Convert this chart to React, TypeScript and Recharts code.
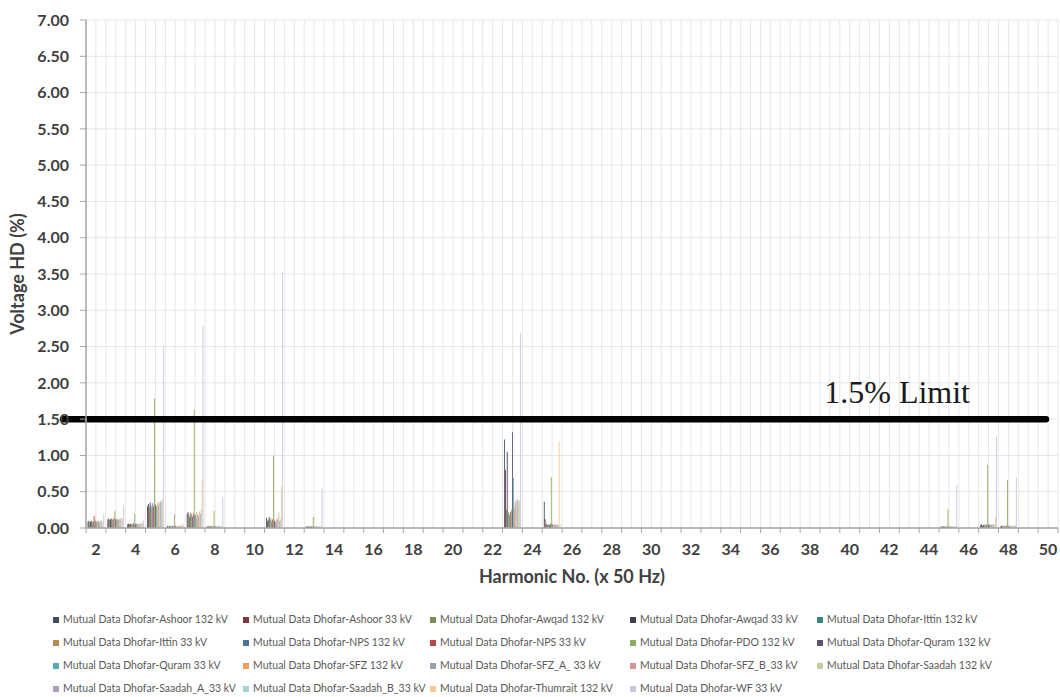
import { BarChart, Bar, XAxis, YAxis, CartesianGrid, ReferenceLine, Legend } from "recharts"

// harmonic order, x 50 Hz
const harmonics = [
  2, 3, 4, 5, 6, 7, 8, 9, 10, 11, 12, 13, 14, 15, 16, 17, 18, 19, 20, 21, 22, 23, 24, 25, 26,
  27, 28, 29, 30, 31, 32, 33, 34, 35, 36, 37, 38, 39, 40, 41, 42, 43, 44, 45, 46, 47, 48, 49, 50,
]
const yTicks = [0, 0.5, 1, 1.5, 2, 2.5, 3, 3.5, 4, 4.5, 5, 5.5, 6, 6.5, 7]
const limit = 1.5

const seriesNames = [
  "Mutual Data Dhofar-Ashoor 132 kV",
  "Mutual Data Dhofar-Ashoor 33 kV",
  "Mutual Data Dhofar-Awqad 132 kV",
  "Mutual Data Dhofar-Awqad 33 kV",
  "Mutual Data Dhofar-Ittin 132 kV",
  "Mutual Data Dhofar-Ittin 33 kV",
  "Mutual Data Dhofar-NPS 132 kV",
  "Mutual Data Dhofar-NPS 33 kV",
  "Mutual Data Dhofar-PDO 132 kV",
  "Mutual Data Dhofar-Quram 132 kV",
  "Mutual Data Dhofar-Quram 33 kV",
  "Mutual Data Dhofar-SFZ 132 kV",
  "Mutual Data Dhofar-SFZ_A_ 33 kV",
  "Mutual Data Dhofar-SFZ_B_33 kV",
  "Mutual Data Dhofar-Saadah 132 kV",
  "Mutual Data Dhofar-Saadah_A_33 kV",
  "Mutual Data Dhofar-Saadah_B_33 kV",
  "Mutual Data Dhofar-Thumrait 132 kV",
  "Mutual Data Dhofar-WF 33 kV",
]

const seriesColors = [
  "#3f4f63", "#7f3540", "#7d8c55", "#433f4c", "#3f8580", "#b58a55", "#4f7397", "#bd4449",
  "#8fae5c", "#5f5270", "#57aab0", "#e8a060", "#98a2ad", "#d49494", "#c3cda2", "#aca2b6",
  "#a6d2d6", "#f5c894", "#c4c8dc",
]

// values in % (index = harmonic - 2)
const ashoor132 = [
  0.09, 0.12, 0.05, 0.3, 0.03, 0.2, 0.02, 0, 0, 0.14,
  0, 0.02, 0, 0, 0, 0, 0, 0, 0, 0,
  0, 1.22, 0, 0.36, 0, 0, 0, 0, 0, 0,
  0, 0, 0, 0, 0, 0, 0, 0, 0, 0,
  0, 0, 0, 0.02, 0, 0.04, 0.02, 0, 0,
]
const ashoor33 = [
  0.1, 0.13, 0.06, 0.33, 0.02, 0.22, 0.02, 0, 0, 0.1,
  0, 0.02, 0, 0, 0, 0, 0, 0, 0, 0,
  0, 0.8, 0, 0.12, 0, 0, 0, 0, 0, 0,
  0, 0, 0, 0, 0, 0, 0, 0, 0, 0,
  0, 0, 0, 0.02, 0, 0.05, 0.03, 0, 0,
]
const awqad132 = [
  0.08, 0.11, 0.05, 0.28, 0.03, 0.18, 0.03, 0, 0, 0.12,
  0, 0.02, 0, 0, 0, 0, 0, 0, 0, 0,
  0, 0.25, 0, 0.06, 0, 0, 0, 0, 0, 0,
  0, 0, 0, 0, 0, 0, 0, 0, 0, 0,
  0, 0, 0, 0.02, 0, 0.03, 0.02, 0, 0,
]
const awqad33 = [
  0.09, 0.12, 0.06, 0.35, 0.02, 0.15, 0.02, 0, 0, 0.15,
  0, 0.02, 0, 0, 0, 0, 0, 0, 0, 0,
  0, 1.05, 0, 0.05, 0, 0, 0, 0, 0, 0,
  0, 0, 0, 0, 0, 0, 0, 0, 0, 0,
  0, 0, 0, 0.02, 0, 0.04, 0.03, 0, 0,
]
const ittin132 = [
  0.1, 0.13, 0.05, 0.31, 0.03, 0.21, 0.02, 0, 0, 0.11,
  0, 0.02, 0, 0, 0, 0, 0, 0, 0, 0,
  0, 0.22, 0, 0.04, 0, 0, 0, 0, 0, 0,
  0, 0, 0, 0, 0, 0, 0, 0, 0, 0,
  0, 0, 0, 0.02, 0, 0.05, 0.02, 0, 0,
]
const ittin33 = [
  0.08, 0.12, 0.06, 0.27, 0.02, 0.19, 0.03, 0, 0, 0.13,
  0, 0.02, 0, 0, 0, 0, 0, 0, 0, 0,
  0, 0.2, 0, 0.05, 0, 0, 0, 0, 0, 0,
  0, 0, 0, 0, 0, 0, 0, 0, 0, 0,
  0, 0, 0, 0.02, 0, 0.03, 0.03, 0, 0,
]
const nps132 = [
  0.09, 0.11, 0.05, 0.34, 0.03, 0.16, 0.02, 0, 0, 0.09,
  0, 0.02, 0, 0, 0, 0, 0, 0, 0, 0,
  0, 0.18, 0, 0.04, 0, 0, 0, 0, 0, 0,
  0, 0, 0, 0, 0, 0, 0, 0, 0, 0,
  0, 0, 0, 0.02, 0, 0.04, 0.02, 0, 0,
]
const nps33 = [
  0.17, 0.14, 0.07, 0.3, 0.02, 0.2, 0.02, 0, 0, 0.12,
  0, 0.02, 0, 0, 0, 0, 0, 0, 0, 0,
  0, 0.22, 0, 0.06, 0, 0, 0, 0, 0, 0,
  0, 0, 0, 0, 0, 0, 0, 0, 0, 0,
  0, 0, 0, 0.02, 0, 0.05, 0.03, 0, 0,
]
const pdo132 = [
  0.12, 0.23, 0.2, 1.78, 0.19, 1.63, 0.23, 0, 0, 1.0,
  0, 0.15, 0, 0, 0, 0, 0, 0, 0, 0,
  0, 0.25, 0, 0.7, 0, 0, 0, 0, 0, 0,
  0, 0, 0, 0, 0, 0, 0, 0, 0, 0,
  0, 0, 0, 0.26, 0, 0.87, 0.66, 0, 0,
]
const quram132 = [
  0.09, 0.12, 0.05, 0.32, 0.03, 0.18, 0.02, 0, 0, 0.1,
  0, 0.02, 0, 0, 0, 0, 0, 0, 0, 0,
  0, 1.32, 0, 0.05, 0, 0, 0, 0, 0, 0,
  0, 0, 0, 0, 0, 0, 0, 0, 0, 0,
  0, 0, 0, 0.02, 0, 0.04, 0.02, 0, 0,
]
const quram33 = [
  0.08, 0.12, 0.06, 0.29, 0.02, 0.14, 0.03, 0, 0, 0.08,
  0, 0.02, 0, 0, 0, 0, 0, 0, 0, 0,
  0, 0.69, 0, 0.04, 0, 0, 0, 0, 0, 0,
  0, 0, 0, 0, 0, 0, 0, 0, 0, 0,
  0, 0, 0, 0.02, 0, 0.05, 0.03, 0, 0,
]
const sfz132 = [
  0.1, 0.13, 0.05, 0.34, 0.03, 0.22, 0.02, 0, 0, 0.12,
  0, 0.02, 0, 0, 0, 0, 0, 0, 0, 0,
  0, 0.28, 0, 0.05, 0, 0, 0, 0, 0, 0,
  0, 0, 0, 0, 0, 0, 0, 0, 0, 0,
  0, 0, 0, 0.02, 0, 0.04, 0.02, 0, 0,
]
const sfzA33 = [
  0.09, 0.11, 0.06, 0.31, 0.02, 0.19, 0.02, 0, 0, 0.11,
  0, 0.02, 0, 0, 0, 0, 0, 0, 0, 0,
  0, 0.35, 0, 0.04, 0, 0, 0, 0, 0, 0,
  0, 0, 0, 0, 0, 0, 0, 0, 0, 0,
  0, 0, 0, 0.02, 0, 0.05, 0.03, 0, 0,
]
const sfzB33 = [
  0.08, 0.12, 0.05, 0.36, 0.03, 0.17, 0.03, 0, 0, 0.14,
  0, 0.02, 0, 0, 0, 0, 0, 0, 0, 0,
  0, 0.38, 0, 0.05, 0, 0, 0, 0, 0, 0,
  0, 0, 0, 0, 0, 0, 0, 0, 0, 0,
  0, 0, 0, 0.02, 0, 0.04, 0.02, 0, 0,
]
const saadah132 = [
  0.11, 0.13, 0.06, 0.33, 0.02, 0.23, 0.02, 0, 0, 0.22,
  0, 0.02, 0, 0, 0, 0, 0, 0, 0, 0,
  0, 0.32, 0, 0.04, 0, 0, 0, 0, 0, 0,
  0, 0, 0, 0, 0, 0, 0, 0, 0, 0,
  0, 0, 0, 0.02, 0, 0.06, 0.03, 0, 0,
]
const saadahA33 = [
  0.09, 0.12, 0.07, 0.38, 0.03, 0.2, 0.02, 0, 0, 0.1,
  0, 0.02, 0, 0, 0, 0, 0, 0, 0, 0,
  0, 0.4, 0, 0.05, 0, 0, 0, 0, 0, 0,
  0, 0, 0, 0, 0, 0, 0, 0, 0, 0,
  0, 0, 0, 0.02, 0, 0.05, 0.02, 0, 0,
]
const saadahB33 = [
  0.1, 0.14, 0.06, 0.35, 0.03, 0.26, 0.03, 0, 0, 0.12,
  0, 0.02, 0, 0, 0, 0, 0, 0, 0, 0,
  0, 0.36, 0, 0.04, 0, 0, 0, 0, 0, 0,
  0, 0, 0, 0, 0, 0, 0, 0, 0, 0,
  0, 0, 0, 0.02, 0, 0.04, 0.03, 0, 0,
]
const thumrait132 = [
  0.09, 0.13, 0.08, 0.4, 0.04, 0.66, 0.02, 0, 0, 0.57,
  0, 0.03, 0, 0, 0, 0, 0, 0, 0, 0,
  0, 0.38, 0, 1.19, 0, 0, 0, 0, 0, 0,
  0, 0, 0, 0, 0, 0, 0, 0, 0, 0,
  0, 0, 0, 0.03, 0, 0.15, 0.04, 0, 0,
]
const wf33 = [
  0.2, 0.32, 0.1, 2.5, 0.06, 2.78, 0.43, 0, 0, 3.52,
  0, 0.54, 0, 0, 0, 0, 0, 0, 0, 0,
  0, 2.69, 0, 0.05, 0, 0, 0, 0, 0, 0,
  0, 0, 0, 0, 0, 0, 0, 0, 0, 0,
  0, 0, 0, 0.59, 0, 1.26, 0.7, 0, 0,
]

const seriesValues = [
  ashoor132, ashoor33, awqad132, awqad33, ittin132, ittin33, nps132, nps33, pdo132, quram132,
  quram33, sfz132, sfzA33, sfzB33, saadah132, saadahA33, saadahB33, thumrait132, wf33,
]

const data = harmonics.map((h, i) => {
  const row: Record<string, number> = { h }
  seriesValues.forEach((vals, k) => {
    row["s" + k] = vals[i]
  })
  return row
})

const axisGray = "#a6a6a6"
const textGray = "#404040"

function HarmonicTick(props: any) {
  const { x, y, payload } = props
  const half = payload.offset || 9.9
  const isLast = payload.value === harmonics[harmonics.length - 1]
  return (
    <g>
      <line x1={x - half} y1={y} x2={x - half} y2={y + 5} stroke={axisGray} />
      {isLast && <line x1={x + half} y1={y} x2={x + half} y2={y + 5} stroke={axisGray} />}
      {payload.value % 2 === 0 && (
        <text x={x} y={y + 27} textAnchor="middle" fill={textGray} fontSize={16} fontWeight={700}>
          {payload.value}
        </text>
      )}
    </g>
  )
}

function LimitLine(props: any) {
  const { x1, y1, x2 } = props
  return (
    <g>
      <line x1={x1 - 23} y1={y1} x2={x2 - 12} y2={y1} stroke="#000" strokeWidth={6.5} strokeLinecap="round" />
      <text
        x={x2 - 88}
        y={y1 - 16}
        textAnchor="end"
        fontFamily='"Liberation Serif", "Times New Roman", serif'
        fontSize={32}
        fill="#1a1a1a"
      >
        {limit}% Limit
      </text>
    </g>
  )
}

const legendCols = [53, 243, 430, 630, 817]

function LegendGrid(props: any) {
  const payload = props.payload || []
  return (
    <div style={{ position: "relative", width: 1060, height: 90 }}>
      {payload.map((p: any, i: number) => (
        <div
          key={p.value}
          style={{
            position: "absolute",
            left: legendCols[i % 5],
            top: Math.floor(i / 5) * 23,
            display: "flex",
            alignItems: "center",
            whiteSpace: "nowrap",
            fontSize: 10.5,
            lineHeight: "13px",
            color: "#595959",
          }}
        >
          <span style={{ display: "inline-block", width: 6, height: 6, background: p.color, marginRight: 4 }} />
          {p.value}
        </div>
      ))}
    </div>
  )
}

export default function App() {
  return (
    <div
      style={{
        position: "absolute",
        left: 0,
        top: 0,
        width: 1060,
        height: 697,
        background: "#fff",
        fontFamily: 'Lato, "Open Sans", sans-serif',
      }}
    >
      <BarChart
        width={1060}
        height={697}
        data={data}
        margin={{ top: 20, right: 2, left: 0, bottom: 109 }}
        barCategoryGap="8%"
        barGap={0}
      >
        <CartesianGrid
          stroke="#e6e6e6"
          verticalCoordinatesGenerator={({ offset }: any) =>
            Array.from({ length: harmonics.length * 2 + 1 }, (_, i) => offset.left + (i * offset.width) / (harmonics.length * 2))
          }
        />
        <XAxis
          dataKey="h"
          interval={0}
          height={60}
          tickSize={0}
          tickMargin={0}
          tickLine={false}
          axisLine={{ stroke: axisGray, strokeWidth: 1.5 }}
          tick={<HarmonicTick />}
          label={{
            value: "Harmonic No. (x 50 Hz)",
            position: "insideBottom",
            offset: 5,
            style: { fill: textGray, fontSize: 18, fontWeight: 700 },
          }}
        />
        <YAxis
          width={86}
          domain={[0, 7]}
          ticks={yTicks}
          interval={0}
          tickSize={6}
          tickMargin={11}
          tickFormatter={(v: number) => v.toFixed(2)}
          tick={{ fill: textGray, fontSize: 16, fontWeight: 700 }}
          axisLine={{ stroke: axisGray, strokeWidth: 1.5 }}
          tickLine={{ stroke: axisGray }}
          label={{
            value: "Voltage HD (%)",
            angle: -90,
            position: "insideLeft",
            offset: 18,
            style: { textAnchor: "middle", fill: textGray, fontSize: 18, fontWeight: 700 },
          }}
        />
        {seriesNames.map((name, k) => (
          <Bar key={name} dataKey={"s" + k} name={name} fill={seriesColors[k]} isAnimationActive={false} />
        ))}
        <ReferenceLine y={limit} shape={LimitLine} />
        <Legend
          layout="horizontal"
          verticalAlign="middle"
          align="center"
          wrapperStyle={{ top: 613, left: 0, width: 1060 }}
          content={LegendGrid}
        />
      </BarChart>
    </div>
  )
}
